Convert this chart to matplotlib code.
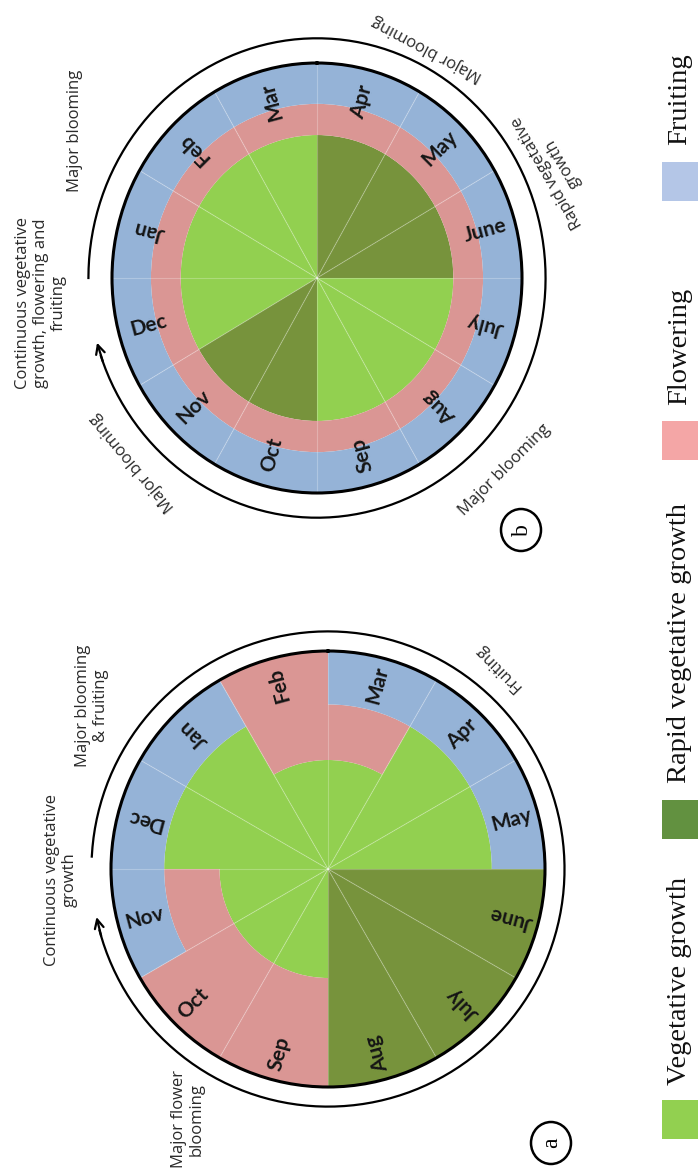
import numpy as np
import matplotlib.pyplot as plt
from matplotlib.patches import Ellipse, Rectangle

W, H = 698, 1176

# colours
c_veg = '#92d050'
c_rapid = '#77933c'
c_flower = '#da9694'
c_fruit = '#95b3d7'

# panel (a): months clockwise from 12 o'clock (rotated page)
months_a = ['Mar', 'Apr', 'May', 'June', 'July', 'Aug', 'Sep', 'Oct', 'Nov', 'Dec', 'Jan', 'Feb']
veg_a = [0.5, 0.755, 0.755, 0, 0, 0, 0.5, 0.5, 0.5, 0.755, 0.755, 0.5]
rapid_a = [0, 0, 0, 1, 1, 1, 0, 0, 0, 0, 0, 0]
flower_a = [0.255, 0, 0, 0, 0, 0, 0.5, 0.5, 0.255, 0, 0, 0.5]
fruit_a = [0.245, 0.245, 0.245, 0, 0, 0, 0, 0, 0.245, 0.245, 0.245, 0]

# panel (b)
months_b = ['Apr', 'May', 'June', 'July', 'Aug', 'Sep', 'Oct', 'Nov', 'Dec', 'Jan', 'Feb', 'Mar']
veg_b = [0, 0, 0, 0.665, 0.665, 0.665, 0, 0, 0.665, 0.665, 0.665, 0.665]
rapid_b = [0.665, 0.665, 0.665, 0, 0, 0, 0.665, 0.665, 0, 0, 0, 0]
flower_b = [0.145] * 12
fruit_b = [0.19] * 12

legend_labels = ['Vegetative growth', 'Rapid vegetative growth', 'Flowering', 'Fruiting']
legend_colors = ['#92d050', '#629140', '#f4a6a6', '#b4c6e7']

fig = plt.figure(figsize=(W / 100, H / 100), dpi=100)


def fx(x):
    return x / W


def fy(y):
    return 1 - y / H


def wheel(cx, cy, rx, ry, months, stacks, lab_r, arc_r, arc_from, arc_to):
    ax = fig.add_axes([fx(cx - rx), fy(cy + ry), 2 * rx / W, 2 * ry / H], projection='polar')
    ax.set_aspect('auto')
    ax.set_theta_zero_location('N')
    ax.set_theta_direction(-1)
    n = len(months)
    width = 2 * np.pi / n
    theta = (np.arange(n) + 0.5) * width
    bottom = np.zeros(n)
    for vals, col in zip(stacks, [c_veg, c_rapid, c_flower, c_fruit]):
        vals = np.array(vals)
        ax.bar(theta, vals, width=width, bottom=bottom, color=col, edgecolor='none', align='center')
        bottom = bottom + vals
    # faint month dividers
    for k in range(n):
        ax.plot([k * width] * 2, [0, 1], color='white', alpha=0.25, lw=0.8)
    for t, m in zip(theta, months):
        d = np.degrees(t)
        rot = 90 - d if (d < 90 or d > 270) else 270 - d
        ax.text(t, lab_r, m, rotation=rot, ha='center', va='center', rotation_mode='anchor',
                fontsize=15, fontweight='bold', family='Lato', color='#151515')
    # outer arc with arrow
    th = np.radians(np.linspace(arc_from, arc_to - 4, 300))
    ax.plot(th, np.full_like(th, arc_r), color='black', lw=1.6, clip_on=False)
    ax.annotate('', xy=(np.radians(arc_to), arc_r), xytext=(np.radians(arc_to - 6), arc_r),
                arrowprops=dict(arrowstyle='->', lw=1.6, color='black', mutation_scale=16),
                annotation_clip=False)
    ax.set_ylim(0, 1)
    ax.set_xticks([])
    ax.set_yticks([])
    ax.grid(False)
    ax.spines['polar'].set_linewidth(2.2)
    ax.spines['polar'].set_color('black')
    return ax


wheel(317, 278, 205, 215, months_b, [veg_b, rapid_b, flower_b, fruit_b], 0.85, 1.115, 270, 615)
wheel(328, 869, 217, 218, months_a, [veg_a, rapid_a, flower_a, fruit_a], 0.875, 1.09, 273, 619)

ann = dict(family='Open Sans', fontsize=12, color='#2a2a2a', ha='center', va='center',
           multialignment='center', linespacing=1.15)

# panel (b) notes
fig.text(fx(75), fy(131), 'Major blooming', rotation=90, **ann)
fig.text(fx(41), fy(303), 'Continuous vegetative\ngrowth, flowering and\nfruiting', rotation=90, **ann)
fig.text(fx(427), fy(48), 'Major blooming', rotation=152, **ann)
fig.text(fx(555), fy(168), 'Rapid vegetative\ngrowth', rotation=120, **ann)
fig.text(fx(505), fy(470), 'Major blooming', rotation=45, **ann)
fig.text(fx(133), fy(462), 'Major blooming', rotation=130, **ann)

# panel (a) notes
fig.text(fx(92), fy(706), 'Major blooming\n& fruiting', rotation=90, **ann)
fig.text(fx(61), fy(880), 'Continuous vegetative\ngrowth', rotation=90, **ann)
fig.text(fx(498), fy(668), 'Fruiting', rotation=135, **ann)
fig.text(fx(188), fy(1119), 'Major flower\nblooming', rotation=90, **ann)

# circled panel letters
for (x, y, s) in [(521, 530, 'b'), (551, 1143, 'a')]:
    fig.add_artist(Ellipse((fx(x), fy(y)), 40 / W, 42 / H, transform=fig.transFigure,
                           fill=False, lw=1.8, color='black'))
    fig.text(fx(x + 1), fy(y), s, rotation=90, ha='center', va='center',
             family='Liberation Serif', fontsize=17)

# legend (rotated)
leg_sq = [1100, 800, 421, 162]
leg_txt = [1085, 783, 405, 145]
for lab, col, ys, yt in zip(legend_labels, legend_colors, leg_sq, leg_txt):
    fig.add_artist(Rectangle((fx(662), fy(ys + 39)), 40 / W, 39 / H, transform=fig.transFigure,
                             color=col, lw=0))
    fig.text(fx(680), fy(yt), lab, rotation=90, ha='center', va='bottom',
             family='Liberation Serif', fontsize=20.5, color='#111111')

fig.savefig('out.png', dpi=100)
